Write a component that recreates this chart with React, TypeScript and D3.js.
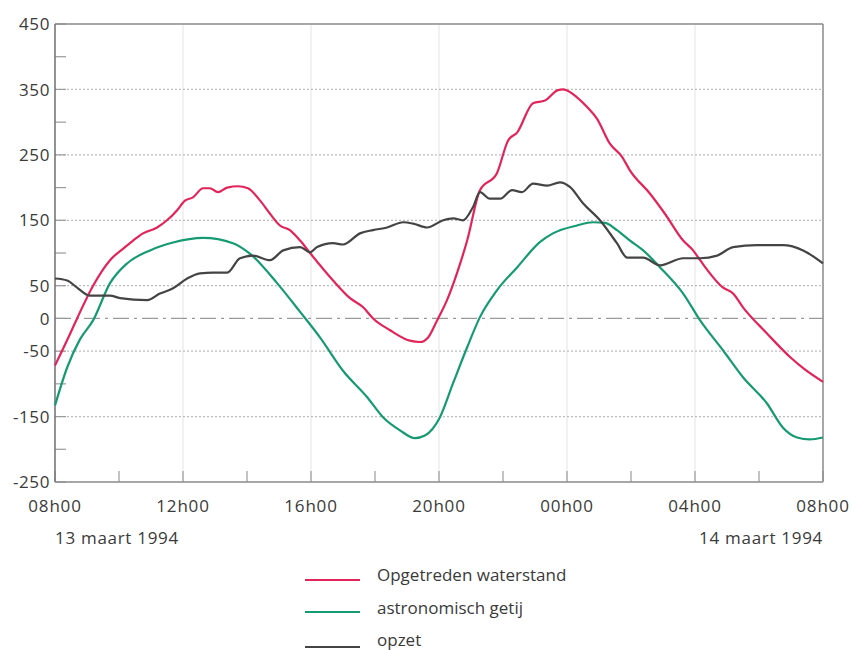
import React from "react";
import * as d3 from "d3";

// Hours since 13 maart 1994 08h00, paired with water level (cm)
const waterstand: [number, number][] = [
  [0.0, -72], [0.41, -30], [0.69, 0], [1.19, 50], [1.72, 89], [2.19, 109], [2.44, 119],
  [2.75, 130], [3.19, 139], [3.5, 150], [3.81, 165], [4.06, 180], [4.31, 185], [4.63, 199],
  [4.84, 199], [5.09, 193], [5.38, 200], [5.72, 202], [6.03, 199], [6.41, 180], [6.72, 160],
  [7.03, 142], [7.34, 135], [7.66, 119], [7.97, 100], [8.69, 58], [9.22, 31], [9.63, 17],
  [9.94, 0], [10.47, -18], [11.09, -34], [11.41, -36], [11.66, -29], [11.94, -3], [12.25, 28],
  [12.56, 69], [12.88, 119], [13.28, 196], [13.81, 222], [14.16, 272], [14.44, 284],
  [14.94, 329], [15.31, 333], [15.72, 349], [15.88, 350], [16.31, 338], [16.63, 323],
  [16.94, 305], [17.34, 267], [17.72, 247], [17.97, 226], [18.59, 191], [19.06, 160],
  [19.63, 119], [19.94, 104], [20.16, 89], [20.88, 47], [21.19, 38], [21.5, 17],
  [22.25, -23], [22.97, -59], [23.38, -76], [24.0, -97],
];

const getij: [number, number][] = [
  [0.0, -133], [0.38, -75], [0.78, -32], [1.19, -3], [1.72, 54], [2.25, 84], [2.97, 104],
  [3.69, 116], [4.63, 123], [5.56, 115], [6.09, 99], [6.94, 54], [7.66, 10], [8.28, -29],
  [9.0, -80], [9.75, -120], [10.25, -151], [10.78, -171], [11.25, -183], [11.56, -179],
  [12.03, -151], [12.44, -99], [12.88, -44], [13.28, 2], [13.81, 43], [14.44, 78],
  [15.16, 117], [15.56, 130], [16.31, 142], [16.81, 147], [17.19, 146], [17.56, 135],
  [17.97, 119], [18.38, 104], [18.91, 78], [19.63, 38], [20.16, -3], [20.88, -49],
  [21.5, -90], [22.25, -130], [22.75, -167], [23.19, -182], [23.59, -185], [24.0, -182],
];

const opzet: [number, number][] = [
  [0.0, 61], [0.38, 58], [0.69, 47], [1.09, 35], [1.72, 35], [2.03, 31], [2.88, 28],
  [3.28, 38], [3.69, 46], [4.13, 61], [4.53, 69], [4.94, 70], [5.38, 70], [5.78, 92],
  [6.19, 96], [6.72, 89], [7.13, 104], [7.66, 109], [7.97, 101], [8.19, 109], [8.69, 115],
  [9.0, 113], [9.53, 130], [9.94, 135], [10.38, 139], [10.88, 147], [11.19, 145],
  [11.63, 139], [12.13, 150], [12.44, 153], [12.75, 150], [13.06, 170], [13.28, 193],
  [13.59, 183], [13.91, 183], [14.28, 196], [14.59, 193], [14.94, 206], [15.38, 203],
  [15.78, 208], [16.09, 201], [16.5, 176], [17.03, 150], [17.56, 115], [17.88, 93],
  [18.38, 93], [18.91, 81], [19.63, 92], [20.16, 92], [20.69, 96], [21.19, 109],
  [21.94, 112], [22.75, 112], [23.38, 104], [24.0, 84],
];

const yLabels = [450, 350, 250, 150, 50, 0, -50, -150, -250];
const yGrid = [350, 250, 150, 50, -50, -150];
const dateLabels = ["13 maart 1994", "14 maart 1994"];
const legendItems = ["Opgetreden waterstand", "astronomisch getij", "opzet"];

const start = new Date(1994, 2, 13, 8, 0);
const end = new Date(1994, 2, 14, 8, 0);

const W = 856;
const H = 650;
const left = 55;
const right = 823;
const top = 24;
const bottom = 482;

const colors = ["#e2245a", "#169a72", "#444444"];
const textColor = "#3a3a3a";
const font = "'Open Sans', sans-serif";

export default function App() {
  const x = d3.scaleTime().domain([start, end]).range([left, right]);
  const y = d3.scaleLinear().domain([-250, 450]).range([bottom, top]);
  const toDate = (h: number) => new Date(start.getTime() + h * 3600e3);
  const line = d3
    .line<[number, number]>()
    .x((d) => x(toDate(d[0])))
    .y((d) => y(d[1]))
    .curve(d3.curveMonotoneX);

  const majorTicks = x.ticks(d3.timeHour.every(4)!);
  const minorTicks = x.ticks(d3.timeHour.every(2)!);
  const yMinor = d3.range(-250, 451, 50);
  const fmt = d3.timeFormat("%Hh%M");

  const series = [waterstand, getij, opzet];

  return (
    <svg
      width={W}
      height={H}
      style={{ position: "absolute", left: 0, top: 0, background: "#fff" }}
      fontFamily={font}
    >
      {/* vertical grid */}
      {majorTicks.slice(1, -1).map((t, i) => (
        <line key={"vg" + i} x1={x(t)} x2={x(t)} y1={top} y2={bottom} stroke="#e4e4e4" strokeWidth={1} />
      ))}
      {/* horizontal dotted grid */}
      {yGrid.map((v) => (
        <line key={"hg" + v} x1={left} x2={right} y1={y(v)} y2={y(v)} stroke="#bdbdbd" strokeWidth={1.2} strokeDasharray="2 2" />
      ))}
      {/* zero line */}
      <line x1={left} x2={right} y1={y(0)} y2={y(0)} stroke="#9a9a9a" strokeWidth={1.3} strokeDasharray="16 5 3 5" />

      {/* y ticks */}
      {yMinor.map((v) => (
        <line key={"yt" + v} x1={left} x2={left + 11} y1={y(v)} y2={y(v)} stroke="#9a9a9a" strokeWidth={1.2} />
      ))}
      {/* x ticks */}
      {minorTicks.map((t, i) => (
        <line key={"xt" + i} x1={x(t)} x2={x(t)} y1={bottom} y2={bottom - 11} stroke="#9a9a9a" strokeWidth={1.2} />
      ))}

      {/* frame */}
      <line x1={left} x2={right} y1={top} y2={top} stroke="#8a8a8a" strokeWidth={1.5} />
      <line x1={right} x2={right} y1={top} y2={bottom} stroke="#8a8a8a" strokeWidth={1.5} />
      <line x1={left} x2={right} y1={bottom} y2={bottom} stroke="#8a8a8a" strokeWidth={1.5} />
      <line x1={left} x2={left} y1={top} y2={bottom} stroke="#777" strokeWidth={1.6} />

      {/* series */}
      {series.map((s, i) => (
        <path key={"s" + i} d={line(s) || ""} fill="none" stroke={colors[i]} strokeWidth={2.2} strokeLinejoin="round" />
      ))}

      {/* y labels */}
      {yLabels.map((v) => (
        <text key={"yl" + v} x={left - 5} y={y(v)} dy="0.36em" textAnchor="end" fontSize={17} letterSpacing={0.6} fill={textColor}>
          {v}
        </text>
      ))}
      {/* x labels */}
      {majorTicks.map((t, i) => (
        <text key={"xl" + i} x={x(t)} y={512} textAnchor="middle" fontSize={17} letterSpacing={0.8} fill={textColor}>
          {fmt(t)}
        </text>
      ))}
      <text x={left} y={544} fontSize={17} letterSpacing={0.7} fill={textColor}>
        {dateLabels[0]}
      </text>
      <text x={right} y={544} textAnchor="end" fontSize={17} letterSpacing={0.7} fill={textColor}>
        {dateLabels[1]}
      </text>

      {/* legend */}
      {legendItems.map((name, i) => {
        const ly = [580, 612, 647][i];
        const ty = [575, 608, 640][i];
        return (
          <g key={"lg" + i}>
            <line x1={305} x2={360} y1={ly} y2={ly} stroke={colors[i]} strokeWidth={2} />
            <text x={377} y={ty} dy="0.36em" fontSize={17} fill={textColor}>
              {name}
            </text>
          </g>
        );
      })}
    </svg>
  );
}
